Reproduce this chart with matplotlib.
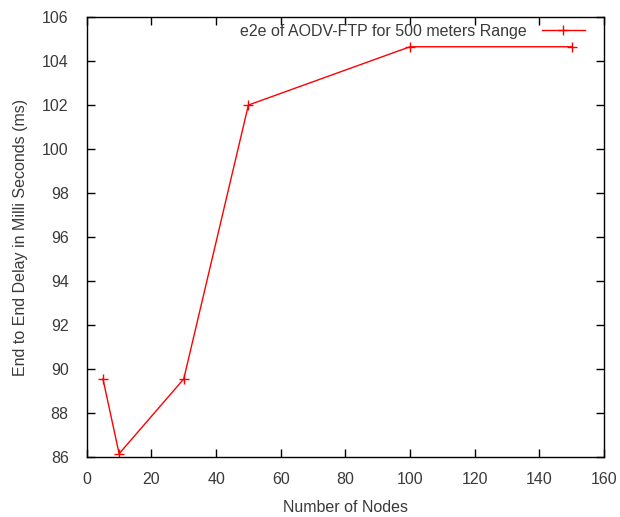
import matplotlib
matplotlib.use('Agg')
import matplotlib.pyplot as plt

# Data
nodes = [5, 10, 30, 50, 100, 150]
delay = [89.55, 86.15, 89.55, 102.0, 104.65, 104.65]

plt.rcParams['font.family'] = ['Liberation Sans', 'DejaVu Sans']
txt = '#3a3a3a'
fs = 11.5

fig = plt.figure(figsize=(6.2, 5.17), dpi=100)
ax = fig.add_axes([0.140, 0.116, 0.834, 0.851])

ax.plot(nodes, delay, color='red', lw=1, marker='+', ms=7, mew=1,
        label='e2e of AODV-FTP for 500 meters Range')

ax.set_xlim(0, 160)
ax.set_ylim(86, 106)
ax.set_xticks(range(0, 161, 20))
ax.set_yticks(range(86, 107, 2))
ax.tick_params(direction='in', top=True, right=True, length=6, width=1,
               labelsize=fs, labelcolor=txt)
ax.tick_params(axis='x', pad=11)
ax.tick_params(axis='y', pad=13)
for s in ax.spines.values():
    s.set_linewidth(1)

ax.set_xlabel('Number of Nodes', fontsize=fs, color=txt, labelpad=9)
ax.set_ylabel('End to End Delay in Milli Seconds (ms)', fontsize=fs, color=txt, labelpad=10)

leg = ax.legend(loc='upper right', frameon=False, markerfirst=False, fontsize=fs,
                handlelength=2.7, handletextpad=0.95, borderaxespad=0, borderpad=0,
                bbox_to_anchor=(585 / 620, 1 - 24 / 517), bbox_transform=fig.transFigure)
for t in leg.get_texts():
    t.set_color(txt)

fig.savefig('out.png')
